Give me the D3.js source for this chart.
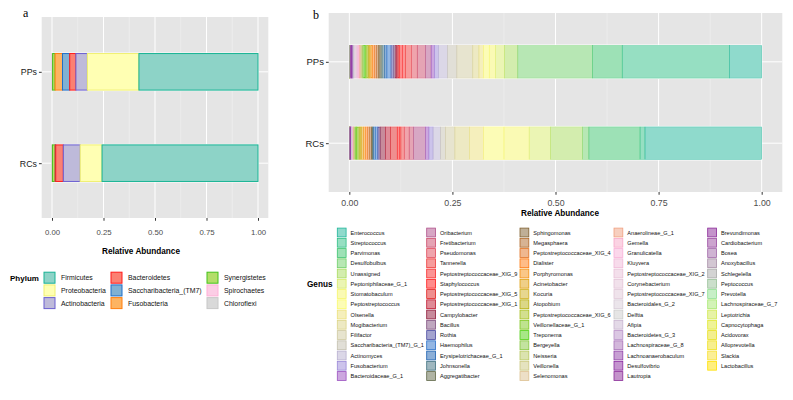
<!DOCTYPE html>
<html>
<head>
<meta charset="utf-8">
<script src="https://cdn.jsdelivr.net/npm/d3@7/dist/d3.min.js"></script>
<style>
  body { margin: 0; background: #fff; }
  text { font-family: "Liberation Sans", Arial, sans-serif; }
</style>
</head>
<body>
<svg id="chart" width="793" height="400"></svg>
<script>
// ---- data ----
var samples = ['PPs', 'RCs'];

var phyla = ['Firmicutes', 'Proteobacteria', 'Actinobacteria', 'Bacteroidetes',
  'Saccharibacteria_(TM7)', 'Fusobacteria', 'Synergistetes', 'Spirochaetes', 'Chloroflexi'];
var phylumPPs = [0.578, 0.250, 0.056, 0.030, 0.035, 0.036, 0.012, 0.002, 0.001];
var phylumRCs = [0.757, 0.106, 0.082, 0.037, 0.002, 0.002, 0.012, 0.001, 0.001];

var genera = ['Enterococcus', 'Streptococcus', 'Parvimonas', 'Desulfobulbus', 'Unassigned',
  'Peptoniphilaceae_G_1', 'Stomatobaculum', 'Peptostreptococcus', 'Olsenella', 'Mogibacterium',
  'Filifactor', 'Saccharibacteria_(TM7)_G_1', 'Actinomyces', 'Fusobacterium', 'Bacteroidaceae_G_1',
  'Oribacterium', 'Fretibacterium', 'Pseudomonas', 'Tannerella', 'Peptostreptococcaceae_XIG_9',
  'Staphylococcus', 'Peptostreptococcaceae_XIG_5', 'Peptostreptococcaceae_XIG_1', 'Campylobacter', 'Bacillus',
  'Rothia', 'Haemophilus', 'Erysipelotrichaceae_G_1', 'Johnsonella', 'Aggregatibacter',
  'Sphingomonas', 'Megasphaera', 'Peptostreptococcaceae_XIG_4', 'Dialister', 'Porphyromonas',
  'Acinetobacter', 'Kocuria', 'Atopobium', 'Peptostreptococcaceae_XIG_6', 'Veillonellaceae_G_1',
  'Treponema', 'Bergeyella', 'Neisseria', 'Veillonella', 'Selenomonas',
  'Anaerolineae_G_1', 'Gemella', 'Granulicatella', 'Kluyvera', 'Peptostreptococcaceae_XIG_2',
  'Corynebacterium', 'Peptostreptococcaceae_XIG_7', 'Bacteroidales_G_2', 'Delftia', 'Afipia',
  'Bacteroidetes_G_3', 'Lachnospiraceae_G_8', 'Lachnoanaerobaculum', 'Desulfovibrio', 'Lautropia',
  'Brevundimonas', 'Cardiobacterium', 'Bosea', 'Anoxybacillus', 'Schlegelella',
  'Peptococcus', 'Prevotella', 'Lachnospiraceae_G_7', 'Leptotrichia', 'Capnocytophaga',
  'Acidovorax', 'Alloprevotella', 'Slackia', 'Lactobacillus'];

var genusPPs = [0.079, 0.262, 0.073, 0.182, 0.032,
  0.023, 0.015, 0.014, 0.011, 0.015,
  0.039, 0.023, 0.022, 0.010, 0.008,
  0.014, 0.020, 0.014, 0.014, 0.008,
  0.008, 0.003, 0.003, 0.004, 0.004,
  0.006, 0.010, 0.006, 0.006, 0.005,
  0.004, 0.004, 0.005, 0.005, 0.004,
  0.003, 0.002, 0.002, 0.003, 0.003,
  0.004, 0.003, 0.002, 0.002, 0.002,
  0.002, 0.002, 0.002, 0.002, 0.002,
  0.002, 0.002, 0.001, 0.001, 0.001,
  0.001, 0.001, 0.001, 0.001, 0.001,
  0.001, 0.001, 0.001, 0.0005, 0.0003,
  0.0002, 0.0002, 0.0001, 0.0001, 0.0001,
  0.0001, 0.0001, 0.0001, 0.0001];

var genusRCs = [0.283, 0.012, 0.124, 0.015, 0.078,
  0.052, 0.061, 0.049, 0.034, 0.036,
  0.023, 0.012, 0.018, 0.010, 0.008,
  0.030, 0.010, 0.012, 0.008, 0.003,
  0.006, 0.016, 0.012, 0.012, 0.004,
  0.003, 0.006, 0.004, 0.002, 0.002,
  0.002, 0.004, 0.005, 0.005, 0.005,
  0.004, 0.003, 0.003, 0.003, 0.003,
  0.002, 0.002, 0.002, 0.001, 0.001,
  0.0005, 0.0005, 0.0005, 0.0005, 0.0005,
  0.0005, 0.0005, 0.0005, 0.0005, 0.0005,
  0.0005, 0.0005, 0.0005, 0.0005, 0.0005,
  0.0005, 0.0005, 0.0005, 0.0001, 0.0001,
  0.0001, 0.0001, 0.0001, 0.0001, 0.0001,
  0.0001, 0.0001, 0.0001, 0.0001];

var xTicks = [0, 0.25, 0.5, 0.75, 1];
var xMinor = [0.125, 0.375, 0.625, 0.875];

// ---- colours ----
var phylumFill = ['#8dd3c7', '#ffffb3', '#bebada', '#fb8072', '#80b1d3', '#fdb462', '#b3de69', '#fccde5', '#d9d9d9'];
var phylumLine = ['#18b394', '#f0f070', '#6b5fd0', '#ff1a1a', '#1f6fc8', '#ff7f0e', '#44c21a', '#ffb0d8', '#c8c8c8'];

var genusLine = ['#1fb59a', '#2ebf86', '#3cc46e', '#6fd06a', '#a8dc5e',
  '#d8ec6a', '#f5f56a', '#fafa6e', '#ece07a', '#dcd488',
  '#cfc9a0', '#c4c0b0', '#b8b0d0', '#9a88d8', '#9a50c0',
  '#b0508a', '#cc4a6a', '#e04a5a', '#ee3a3a', '#f82a2a',
  '#ff1a1a', '#e02020', '#c01830', '#901838', '#805080',
  '#4a4aa0', '#2a70c8', '#1a60b0', '#407080', '#606848',
  '#806030', '#b06828', '#e07020', '#ff7a10', '#f59010',
  '#e0a010', '#d0b020', '#b8b010', '#a8c020', '#80c820',
  '#50d010', '#88c840', '#b8c860', '#ccc880', '#dcc090',
  '#f0a080', '#f8a8c8', '#f8b0d8', '#f0b8d8', '#e8c0d8',
  '#e4c4d8', '#e0c8d8', '#d8ccd8', '#cccccc', '#c8b4d0',
  '#b890c8', '#a870b8', '#9040a8', '#8a2aa0', '#8a2a98',
  '#8a2898', '#9a4aa0', '#a068a8', '#a890a8', '#a8a8a8',
  '#98c098', '#90e090', '#a8e870', '#d0e850', '#e0e830',
  '#e8e020', '#f0e020', '#f8e030', '#ffe000'];

var svg = d3.select('#chart');

function toRows(keys, valsBySample) {
  return samples.map(function(s, i) {
    var row = {sample: s};
    keys.forEach(function(k, j) { row[k] = valsBySample[i][j]; });
    return row;
  });
}

function draw_panel(o) {
  var g = svg.append('g');
  var x = d3.scaleLinear().domain([-0.05, 1.05]).range([o.left, o.right]);
  var y = d3.scalePoint().domain(samples).range([o.top, o.bottom]).padding(0.6);
  var bw = y.step() * 0.4;

  g.append('rect')
    .attr('x', o.left).attr('y', o.top)
    .attr('width', o.right - o.left).attr('height', o.bottom - o.top)
    .attr('fill', '#e5e5e5');

  // grid
  g.selectAll('.minor').data(xMinor).enter().append('line')
    .attr('x1', function(d) { return x(d); }).attr('x2', function(d) { return x(d); })
    .attr('y1', o.top).attr('y2', o.bottom)
    .attr('stroke', '#f2f2f2').attr('stroke-width', 0.5);
  g.selectAll('.major').data(xTicks).enter().append('line')
    .attr('x1', function(d) { return x(d); }).attr('x2', function(d) { return x(d); })
    .attr('y1', o.top).attr('y2', o.bottom)
    .attr('stroke', '#fff').attr('stroke-width', 1);
  g.selectAll('.hmajor').data(samples).enter().append('line')
    .attr('x1', o.left).attr('x2', o.right)
    .attr('y1', function(d) { return y(d); }).attr('y2', function(d) { return y(d); })
    .attr('stroke', '#fff').attr('stroke-width', 1);

  var keys = o.keys.slice().reverse();
  var stack = d3.stack().keys(keys).offset(d3.stackOffsetExpand);
  var series = stack(o.rows);

  // white underlay
  g.selectAll('.under').data(samples).enter().append('rect')
    .attr('x', x(0) - 0.5).attr('width', x(1) - x(0) + 1)
    .attr('y', function(d) { return y(d) - bw / 2 - 1; })
    .attr('height', bw + 2)
    .attr('fill', '#fff');

  g.selectAll('.seg').data(series).enter().append('g')
    .each(function(s) {
      var idx = o.keys.indexOf(s.key);
      d3.select(this).selectAll('rect').data(s).enter().append('rect')
        .attr('x', function(d) { return x(d[0]); })
        .attr('width', function(d) { return Math.max(0, x(d[1]) - x(d[0])); })
        .attr('y', function(d) { return y(d.data.sample) - bw / 2; })
        .attr('height', bw)
        .attr('fill', o.fill[idx])
        .attr('fill-opacity', o.fillOpacity)
        .attr('stroke', o.line[idx])
        .attr('stroke-opacity', o.strokeOp)
        .attr('stroke-width', o.strokeW);
    });

  // axes
  var xa = g.append('g')
    .attr('transform', 'translate(0,' + o.bottom + ')')
    .call(d3.axisBottom(x).tickValues(xTicks).tickFormat(d3.format('.2f')).tickSize(2.75).tickPadding(o.xPad));
  xa.select('.domain').remove();
  xa.selectAll('line').attr('stroke', '#333');
  xa.selectAll('text').attr('fill', '#4d4d4d').style('font-size', o.tickFont + 'px')
    .style('font-family', '"Liberation Sans", Arial, sans-serif');

  var ya = g.append('g')
    .attr('transform', 'translate(' + o.left + ',0)')
    .call(d3.axisLeft(y).tickSize(2.75).tickPadding(2));
  ya.select('.domain').remove();
  ya.selectAll('line').attr('stroke', '#333');
  ya.selectAll('text').attr('fill', '#1a1a1a').style('font-size', o.yFont + 'px')
    .style('font-family', '"Liberation Sans", Arial, sans-serif');

  g.append('text')
    .attr('x', o.titleX).attr('y', o.titleY)
    .attr('text-anchor', 'middle')
    .style('font-size', '8.2px').style('font-weight', 'bold')
    .text('Relative Abundance');

  g.append('text')
    .attr('x', o.tagX).attr('y', o.tagY)
    .style('font-family', '"Liberation Serif", "DejaVu Serif", serif')
    .style('font-size', '12px')
    .text(o.tag);
}

draw_panel({
  left: 41.7, right: 268.3, top: 17, bottom: 218,
  keys: phyla, rows: toRows(phyla, [phylumPPs, phylumRCs]),
  fill: phylumFill, line: phylumLine, fillOpacity: 1, strokeW: 1, strokeOp: 1,
  tickFont: 7.8, yFont: 8.8, xPad: 9,
  titleX: 141, titleY: 254, tag: 'a', tagX: 23, tagY: 17
});

draw_panel({
  left: 328.7, right: 782.3, top: 13, bottom: 192,
  keys: genera, rows: toRows(genera, [genusPPs, genusRCs]),
  fill: genusLine, line: genusLine, fillOpacity: 0.5, strokeW: 0.45, strokeOp: 0.8,
  tickFont: 8.8, yFont: 9.5, xPad: 5,
  titleX: 560, titleY: 216, tag: 'b', tagX: 313, tagY: 19
});

// ---- phylum legend ----
var phylumColX = [44, 111, 207];
var lgA = svg.append('g');
lgA.append('text').attr('x', 10).attr('y', 280.5)
  .style('font-size', '8px').style('font-weight', 'bold').text('Phylum');
phyla.forEach(function(p, i) {
  var c = Math.floor(i / 3), r = i % 3;
  var cy = 277.7 + r * 12.7;
  lgA.append('rect')
    .attr('x', phylumColX[c]).attr('y', cy - 5.5).attr('width', 11).attr('height', 11)
    .attr('fill', phylumFill[i]).attr('stroke', phylumLine[i]).attr('stroke-width', 1);
  lgA.append('text')
    .attr('x', phylumColX[c] + 17).attr('y', cy + 2.4)
    .style('font-size', '6.9px').attr('fill', '#111').text(p);
});

// ---- genus legend ----
var genusColX = [337.3, 426.7, 520, 614, 707.7];
var lgB = svg.append('g');
lgB.append('text').attr('x', 307).attr('y', 286.5)
  .style('font-size', '8.2px').style('font-weight', 'bold').text('Genus');
genera.forEach(function(gname, i) {
  var c = Math.floor(i / 15), r = i % 15;
  var cy = 232.5 + r * 10.25;
  lgB.append('rect')
    .attr('x', genusColX[c]).attr('y', cy - 4.4).attr('width', 8.8).attr('height', 8.8)
    .attr('fill', '#fff').attr('stroke', 'none');
  lgB.append('rect')
    .attr('x', genusColX[c]).attr('y', cy - 4.4).attr('width', 8.8).attr('height', 8.8)
    .attr('fill', genusLine[i]).attr('fill-opacity', 0.5)
    .attr('stroke', genusLine[i]).attr('stroke-width', 0.8);
  lgB.append('text')
    .attr('x', genusColX[c] + 13.3).attr('y', cy + 2)
    .style('font-size', '5.6px').attr('fill', '#111').text(gname);
});
</script>
</body>
</html>
